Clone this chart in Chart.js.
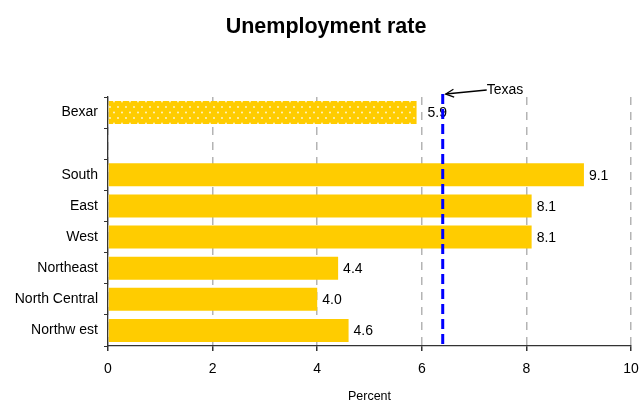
<!DOCTYPE html>
<html>
<head>
<meta charset="utf-8">
<title>Unemployment rate</title>
<script src="https://cdn.jsdelivr.net/npm/chart.js@4/dist/chart.umd.min.js"></script>
<style>
  html, body { margin: 0; padding: 0; background: #fff; }
  #wrap { width: 644px; height: 402px; }
</style>
</head>
<body>
<div id="wrap"><canvas id="chart" width="644" height="402"></canvas></div>
<script>
// Unemployment rate by area, percent (blank row separates Bexar from the regions)
const regions = ['Bexar', '', 'South', 'East', 'West', 'Northeast', 'North Central', 'Northw est'];
const rates = [5.9, null, 9.1, 8.1, 8.1, 4.4, 4.0, 4.6];
const texasRate = 6.4;
const percentTicks = [0, 2, 4, 6, 8, 10];
const chartTitle = 'Unemployment rate';

const FONT = "'Liberation Sans', Arial, sans-serif";
const GOLD = '#FFCC00';

// dotted fill used for the Bexar bar
function dotPattern() {
  const c = document.createElement('canvas');
  c.width = 8; c.height = 11;
  const g = c.getContext('2d');
  g.fillStyle = GOLD;
  g.fillRect(0, 0, 8, 11);
  g.fillStyle = 'rgba(255,255,255,0.85)';
  g.beginPath(); g.arc(2, 2.5, 0.9, 0, Math.PI * 2); g.fill();
  g.beginPath(); g.arc(6, 8, 0.9, 0, Math.PI * 2); g.fill();
  return g.createPattern(c, 'repeat');
}
const bexarFill = dotPattern();
const barColors = regions.map((r, i) => i === 0 ? bexarFill : GOLD);

// heading centred over the whole canvas
const heading = {
  id: 'heading',
  afterDraw(chart) {
    const ctx = chart.ctx;
    ctx.save();
    ctx.font = 'bold 21.5px ' + FONT;
    ctx.fillStyle = '#000';
    ctx.textAlign = 'center';
    ctx.textBaseline = 'middle';
    ctx.fillText(chartTitle, chart.width / 2 + 4, 27);
    ctx.restore();
  }
};

// value labels, Texas reference line and its callout
const overlay = {
  id: 'overlay',
  afterDatasetsDraw(chart) {
    const ctx = chart.ctx;
    const meta = chart.getDatasetMeta(0);
    const xs = chart.scales.x;
    const area = chart.chartArea;
    ctx.save();
    ctx.font = '14px ' + FONT;
    ctx.fillStyle = '#000';
    ctx.textAlign = 'left';
    ctx.textBaseline = 'middle';
    meta.data.forEach((bar, i) => {
      const v = rates[i];
      if (v === null || v === undefined) return;
      ctx.fillText(v.toFixed(1), bar.x + (i === 0 ? 11 : 5), bar.y + 1);
    });

    const tx = xs.getPixelForValue(texasRate);
    ctx.strokeStyle = '#0000FF';
    ctx.lineWidth = 3;
    ctx.setLineDash([10, 5]);
    ctx.beginPath();
    ctx.moveTo(tx, area.top - 3);
    ctx.lineTo(tx, area.bottom);
    ctx.stroke();
    ctx.setLineDash([]);

    // arrow pointing from the label to the top of the line
    const tipX = tx + 3, tipY = area.top - 3;
    const endX = tx + 44, endY = area.top - 7;
    ctx.strokeStyle = '#000';
    ctx.lineWidth = 1.3;
    ctx.beginPath();
    ctx.moveTo(endX, endY);
    ctx.lineTo(tipX, tipY);
    ctx.stroke();
    const ang = Math.atan2(endY - tipY, endX - tipX);
    const head = 9;
    ctx.beginPath();
    ctx.moveTo(tipX + head * Math.cos(ang - 0.45), tipY + head * Math.sin(ang - 0.45));
    ctx.lineTo(tipX, tipY);
    ctx.lineTo(tipX + head * Math.cos(ang + 0.45), tipY + head * Math.sin(ang + 0.45));
    ctx.stroke();

    ctx.fillStyle = '#000';
    ctx.font = '14px ' + FONT;
    ctx.textAlign = 'left';
    ctx.textBaseline = 'middle';
    ctx.fillText('Texas', endX, endY);
    ctx.restore();
  }
};

new Chart(document.getElementById('chart'), {
  type: 'bar',
  data: {
    labels: regions,
    datasets: [{
      data: rates,
      backgroundColor: barColors,
      borderWidth: 0,
      barPercentage: 0.74,
      categoryPercentage: 1.0
    }]
  },
  options: {
    indexAxis: 'y',
    responsive: false,
    animation: false,
    devicePixelRatio: 1,
    layout: { padding: { left: 0, right: 13, top: 97, bottom: 0 } },
    plugins: {
      legend: { display: false },
      tooltip: { enabled: false },
      title: { display: false }
    },
    scales: {
      x: {
        type: 'linear',
        min: 0,
        max: 10,
        afterBuildTicks(scale) { scale.ticks = percentTicks.map(v => ({ value: v })); },
        afterFit(scale) {
          scale.height = 56;
          scale.paddingRight = 0;
          scale.paddingLeft = 0;
        },
        ticks: {
          color: '#000',
          font: { family: FONT, size: 14 },
          padding: 10
        },
        grid: {
          color: '#b4b4b4',
          lineWidth: 1.5,
          tickColor: '#333',
          tickBorderDash: [],
          tickLength: 5
        },
        border: { display: true, color: '#333', width: 1.3, dash: [8, 7] },
        title: {
          display: true,
          text: 'Percent',
          color: '#000',
          font: { family: FONT, size: 12.5, lineHeight: 0.8 },
          padding: { top: 0, bottom: 0 }
        }
      },
      y: {
        afterFit(scale) { scale.width = 108; },
        ticks: {
          color: '#000',
          font: { family: FONT, size: 14 },
          padding: 6
        },
        grid: {
          offset: true,
          drawOnChartArea: false,
          tickColor: '#333',
          tickLength: 4
        },
        border: { display: true, color: '#333', width: 1.3 }
      }
    }
  },
  plugins: [overlay, heading]
});
</script>
</body>
</html>
